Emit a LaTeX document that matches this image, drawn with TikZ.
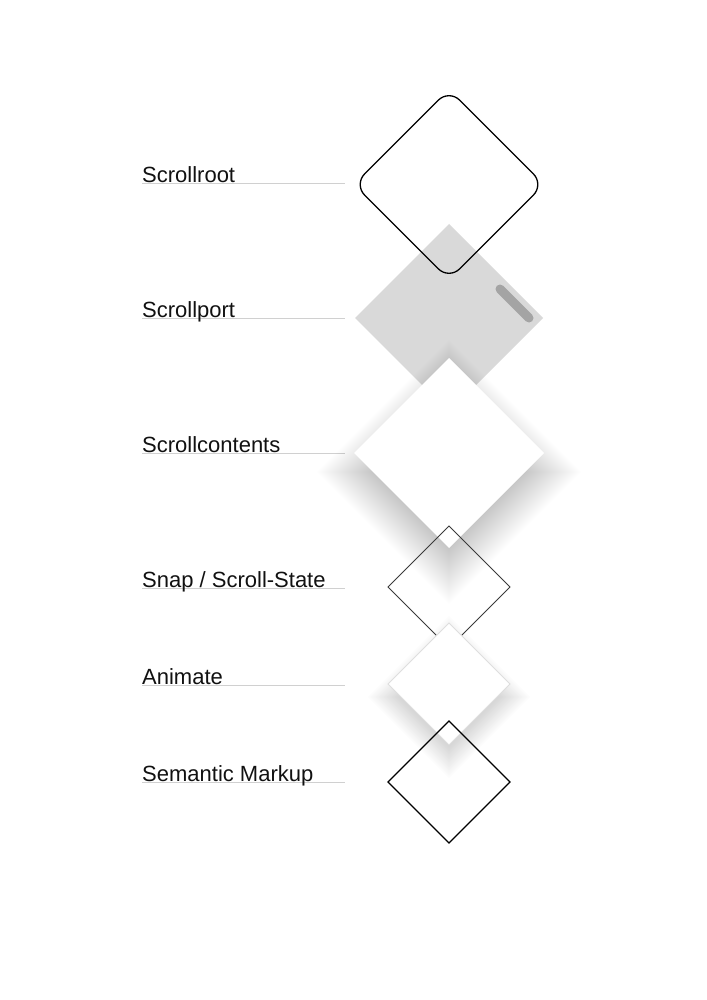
\documentclass[tikz,border=0pt]{standalone}
\usepackage{fontspec}
\setmainfont{Liberation Sans}
\usetikzlibrary{shapes.geometric}
\definecolor{portgray}{HTML}{D9D9D9}
\definecolor{bargray}{HTML}{A4A4A4}
\definecolor{leadgray}{HTML}{D0D0D0}
\definecolor{snapgray}{HTML}{3A3A3A}
\definecolor{animborder}{HTML}{DEDEDE}
\definecolor{txt}{HTML}{111111}
\tikzset{
  lbl/.style={anchor=base west, inner sep=0pt, font=\fontsize{22}{26}\selectfont, text=txt, yshift=1pt},
  leader/.style={draw=leadgray, line width=1pt},
  dia/.style={diamond, inner sep=0pt, outer sep=0pt, minimum width=#1, minimum height=#1},
}
\begin{document}
\begin{tikzpicture}[x=1pt,y=-1pt]
\useasboundingbox[fill=white] (0,0) rectangle (706,1000);

% leaders
\foreach \n/\yy in {1/184,2/318,3/453,4/588,5/685,6/782}{
  \coordinate (s\n) at (142,\yy);
  \coordinate (e\n) at (345,\yy);
  \draw[leader] (s\n) -- (e\n);
}

% labels
\node[lbl] (l1) at (s1) {Scrollroot};
\node[lbl] (l2) at (s2) {Scrollport};
\node[lbl] (l3) at (s3) {Scrollcontents};
\node[lbl] (l4) at (s4) {Snap / Scroll-State};
\node[lbl] (l5) at (s5) {Animate};
\node[lbl] (l6) at (s6) {Semantic Markup};

% Scrollport
\node[dia=188pt, fill=portgray] (d2) at (449,318) {};
\coordinate (b1) at (500,289);
\coordinate (b2) at (529,318);
\draw[bargray, line width=9pt, line cap=round] (b1) -- (b2);

% Scrollroot
\node[dia=190pt, draw=black, line width=1.3pt, rounded corners=15pt] (d1) at (449,184.5) {};

% Scrollcontents shadow
\foreach \i in {0,...,29}{
  \pgfmathsetmacro\r{74+2.0*\i}
  \fill[black, opacity=0.0065] (449,{472-\r}) -- ({449+\r},472) -- (449,{472+\r}) -- ({449-\r},472) -- cycle;
}
\node[dia=190pt, fill=white] (d3) at (449,453) {};

% Snap
\node[dia=122pt, draw=snapgray, line width=1pt] (d4) at (449,587) {};

% Animate shadow
\foreach \i in {0,...,21}{
  \pgfmathsetmacro\r{48+1.6*\i}
  \fill[black, opacity=0.0065] (449,{697-\r}) -- ({449+\r},697) -- (449,{697+\r}) -- ({449-\r},697) -- cycle;
}
\node[dia=122pt, fill=white, draw=animborder, line width=0.8pt] (d5) at (449,684) {};

% Semantic Markup
\node[dia=122pt, draw=black, line width=1.2pt] (d6) at (449,782) {};
\end{tikzpicture}
\end{document}
